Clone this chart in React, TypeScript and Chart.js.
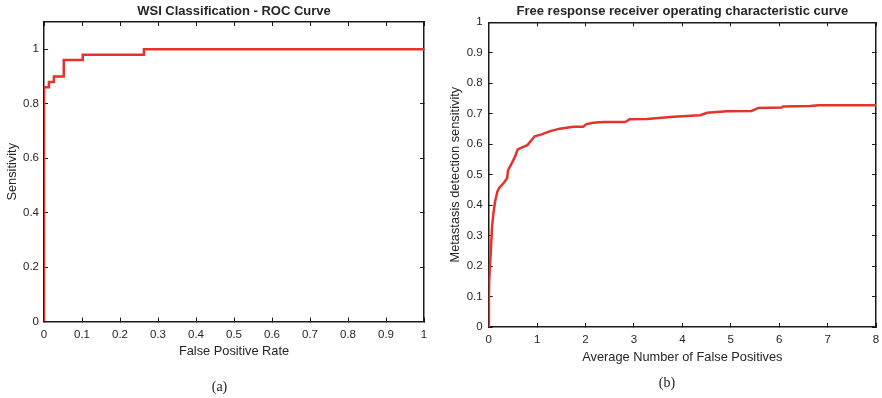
import React, { useEffect, useRef } from "react";
import { Chart, registerables } from "chart.js";

Chart.register(...registerables);

// ---------- Data: (a) WSI ROC curve ----------
const rocFpr = [0, 0, 0.013, 0.026, 0.052, 0.102, 0.263, 1];
const rocTpr = [0, 0.86, 0.88, 0.9, 0.96, 0.98, 1.0, 1.0];
const rocXTicks = [0, 0.1, 0.2, 0.3, 0.4, 0.5, 0.6, 0.7, 0.8, 0.9, 1];
const rocXTickLabels = ["0", "0.1", "0.2", "0.3", "0.4", "0.5", "0.6", "0.7", "0.8", "0.9", "1"];
const rocYTicks = [0, 0.2, 0.4, 0.6, 0.8, 1];
const rocYTickLabels = ["0", "0.2", "0.4", "0.6", "0.8", "1"];

// ---------- Data: (b) FROC curve ----------
const frocFp = [
  0, 0.005, 0.01, 0.027, 0.048, 0.07, 0.095, 0.13, 0.18, 0.22, 0.3, 0.38, 0.4, 0.475, 0.54,
  0.6, 0.68, 0.8, 0.95, 1.09, 1.27, 1.47, 1.75, 1.95, 2.02, 2.16, 2.37, 2.82, 2.91, 3.27,
  3.82, 4.37, 4.51, 4.92, 5.43, 5.57, 6.05, 6.08, 6.64, 6.81, 8.0,
];
const frocSens = [
  0, 0.1, 0.15, 0.2, 0.26, 0.33, 0.37, 0.41, 0.445, 0.457, 0.471, 0.488, 0.515, 0.537, 0.558,
  0.583, 0.589, 0.597, 0.626, 0.632, 0.643, 0.651, 0.657, 0.657, 0.666, 0.67, 0.673, 0.673, 0.682, 0.683,
  0.69, 0.695, 0.703, 0.708, 0.709, 0.719, 0.72, 0.724, 0.725, 0.728, 0.728,
];
const frocXTicks = [0, 1, 2, 3, 4, 5, 6, 7, 8];
const frocXTickLabels = ["0", "1", "2", "3", "4", "5", "6", "7", "8"];
const frocYTicks = [0, 0.1, 0.2, 0.3, 0.4, 0.5, 0.6, 0.7, 0.8, 0.9, 1];
const frocYTickLabels = ["0", "0.1", "0.2", "0.3", "0.4", "0.5", "0.6", "0.7", "0.8", "0.9", "1"];

const FONT = '"Liberation Sans", Arial, Helvetica, sans-serif';
const TEXT = "#262626";
const AXIS = "#1a1a1a";
const RED = "#e5322a";
const TICK_LEN = -4; // negative => tick marks point into the plot (MATLAB style)
const FRAME_W = 1.5;

type Spec = {
  title: string;
  xTitle: string;
  yTitle: string;
  xs: number[];
  ys: number[];
  stepped: false | "before";
  xMin: number;
  xMax: number;
  yMin: number;
  yMax: number;
  xTicks: number[];
  xLabels: string[];
  yTicks: number[];
  yLabels: string[];
  yAxisWidth: number;
  xAxisHeight: number;
  topHeight: number;
  rightWidth: number;
  xTickPad: number;
  yTickPad: number;
  titlePadTop: number;
  xTitlePadBottom: number;
  yTitlePadTop: number;
};

function frameGrid() {
  return {
    display: true,
    drawOnChartArea: false,
    drawTicks: true,
    tickLength: TICK_LEN,
    tickWidth: 1,
    lineWidth: 1,
    color: AXIS,
  };
}

function fixSize(kind: "w" | "h", size: number) {
  return (sc: any) => {
    if (kind === "w") sc.width = size;
    else sc.height = size;
    // do not let tick-label overhang shrink the plot area
    sc.paddingLeft = 0;
    sc.paddingRight = 0;
    sc.paddingTop = 0;
    sc.paddingBottom = 0;
  };
}

function buildChart(canvas: HTMLCanvasElement, s: Spec) {
  const setX = (sc: any) => {
    sc.ticks = s.xTicks.map((v) => ({ value: v }));
  };
  const setY = (sc: any) => {
    sc.ticks = s.yTicks.map((v) => ({ value: v }));
  };
  const border = { display: true, color: AXIS, width: FRAME_W };
  return new Chart(canvas, {
    type: "line",
    data: {
      datasets: [
        {
          data: s.xs.map((x, i) => ({ x, y: s.ys[i] })),
          borderColor: RED,
          backgroundColor: RED,
          borderWidth: 2.5,
          pointRadius: 0,
          fill: false,
          tension: 0,
          stepped: s.stepped,
          xAxisID: "x",
          yAxisID: "y",
        },
      ],
    },
    options: {
      animation: false,
      responsive: false,
      events: [],
      layout: { padding: 0 },
      plugins: {
        legend: { display: false },
        tooltip: { enabled: false },
        title: { display: false },
      },
      scales: {
        x: {
          type: "linear",
          position: "bottom",
          min: s.xMin,
          max: s.xMax,
          afterBuildTicks: setX,
          afterFit: fixSize("h", s.xAxisHeight),
          grid: frameGrid(),
          border,
          ticks: {
            padding: s.xTickPad - TICK_LEN,
            color: TEXT,
            font: { family: FONT, size: 11.5 },
            maxRotation: 0,
            autoSkip: false,
            callback: (_v: any, i: number) => s.xLabels[i],
          },
          title: {
            display: true,
            text: s.xTitle,
            color: TEXT,
            font: { family: FONT, size: 12.8 },
            padding: { top: 0, bottom: s.xTitlePadBottom },
          },
        },
        x2: {
          type: "linear",
          position: "top",
          min: s.xMin,
          max: s.xMax,
          afterBuildTicks: setX,
          afterFit: fixSize("h", s.topHeight),
          grid: frameGrid(),
          border,
          ticks: { display: false },
          title: {
            display: true,
            text: s.title,
            color: TEXT,
            font: { family: FONT, size: 13, weight: "bold" },
            padding: { top: s.titlePadTop, bottom: 0 },
          },
        },
        y: {
          type: "linear",
          position: "left",
          min: s.yMin,
          max: s.yMax,
          afterBuildTicks: setY,
          afterFit: fixSize("w", s.yAxisWidth),
          grid: frameGrid(),
          border,
          ticks: {
            padding: s.yTickPad - TICK_LEN,
            color: TEXT,
            font: { family: FONT, size: 11.5 },
            autoSkip: false,
            callback: (_v: any, i: number) => s.yLabels[i],
          },
          title: {
            display: true,
            text: s.yTitle,
            color: TEXT,
            font: { family: FONT, size: 12.8 },
            padding: { top: s.yTitlePadTop, bottom: 0 },
          },
        },
        y2: {
          type: "linear",
          position: "right",
          min: s.yMin,
          max: s.yMax,
          afterBuildTicks: setY,
          afterFit: fixSize("w", s.rightWidth),
          grid: frameGrid(),
          border,
          ticks: { display: false },
        },
      },
    } as any,
  });
}

const leftSpec: Spec = {
  title: "WSI Classification - ROC Curve",
  xTitle: "False Positive Rate",
  yTitle: "Sensitivity",
  xs: rocFpr,
  ys: rocTpr,
  stepped: "before",
  xMin: 0,
  xMax: 1,
  yMin: 0,
  yMax: 1.1,
  xTicks: rocXTicks,
  xLabels: rocXTickLabels,
  yTicks: rocYTicks,
  yLabels: rocYTickLabels,
  yAxisWidth: 44,
  xAxisHeight: 398 - 321.5,
  topHeight: 22,
  rightWidth: 16,
  xTickPad: 6,
  yTickPad: 5,
  titlePadTop: 3.9,
  xTitlePadBottom: 39.3,
  yTitlePadTop: 4.8,
};

const rightSpec: Spec = {
  title: "Free response receiver operating characteristic curve",
  xTitle: "Average Number of False Positives",
  yTitle: "Metastasis detection sensitivity",
  xs: frocFp,
  ys: frocSens,
  stepped: false,
  xMin: 0,
  xMax: 8,
  yMin: 0,
  yMax: 1,
  xTicks: frocXTicks,
  xLabels: frocXTickLabels,
  yTicks: frocYTicks,
  yLabels: frocYTickLabels,
  yAxisWidth: 48.7,
  xAxisHeight: 398 - 327,
  topHeight: 22.3,
  rightWidth: 6,
  xTickPad: 6,
  yTickPad: 6,
  titlePadTop: 3.7,
  xTitlePadBottom: 32.8,
  yTitlePadTop: 7.8,
};

function caption(x: number, y: number): React.CSSProperties {
  return {
    position: "absolute",
    left: x,
    top: y,
    transform: "translate(-50%, -50%)",
    fontFamily: '"Liberation Serif", "Times New Roman", serif',
    fontSize: 14,
    color: "#222",
    lineHeight: 1,
    whiteSpace: "nowrap",
  };
}

export default function App() {
  const leftRef = useRef<HTMLCanvasElement>(null);
  const rightRef = useRef<HTMLCanvasElement>(null);

  useEffect(() => {
    const a = buildChart(leftRef.current as HTMLCanvasElement, leftSpec);
    const b = buildChart(rightRef.current as HTMLCanvasElement, rightSpec);
    return () => {
      a.destroy();
      b.destroy();
    };
  }, []);

  return (
    <div
      style={{
        position: "fixed",
        left: 0,
        top: 0,
        width: 882,
        height: 398,
        background: "#fff",
        overflow: "hidden",
      }}
    >
      <canvas
        ref={leftRef}
        width={440}
        height={398}
        style={{ position: "absolute", left: 0, top: 0, width: 440, height: 398 }}
      />
      <canvas
        ref={rightRef}
        width={442}
        height={398}
        style={{ position: "absolute", left: 440, top: 0, width: 442, height: 398 }}
      />
      <div style={caption(219.5, 387)}>(a)</div>
      <div style={caption(667, 383)}>(b)</div>
    </div>
  );
}
